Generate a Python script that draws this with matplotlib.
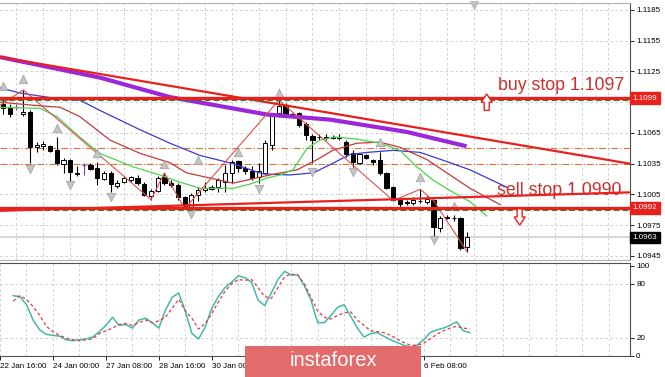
import numpy as np
import matplotlib.pyplot as plt
from matplotlib.patches import FancyBboxPatch, FancyArrow

plt.rcParams['font.family'] = ['Liberation Sans', 'DejaVu Sans']

# EURUSD H4 candles (bar index 0..69)
bar_open = [1.1093, 1.1089, 1.1090, 1.1083, 1.1085, 1.1051, 1.1052, 1.1052, 1.1048, 1.1035,
            1.1039, 1.1026, 1.1034, 1.1034, 1.1031, 1.1020, 1.1026, 1.1013, 1.1017, 1.1019,
            1.1021, 1.1015, 1.1003, 1.1008, 1.1022, 1.1016, 1.1014, 1.1002, 1.0993, 1.1004,
            1.1009, 1.1010, 1.1012, 1.1017, 1.1026, 1.1038, 1.1031, 1.1028, 1.1022, 1.1026,
            1.1053, 1.1084, 1.1092, 1.1083, 1.1084, 1.1074, 1.1062, 1.1061, 1.1061, 1.1060,
            1.1061, 1.1056, 1.1045, 1.1036, 1.1043, 1.1039, 1.1039, 1.1026, 1.1012, 1.1001,
            1.0998, 1.0997, 1.0999, 1.0998, 1.1000, 1.0972, 1.0982, 1.0982, 1.0982, 1.0954]
bar_high = [1.1099, 1.1093, 1.1093, 1.1107, 1.1087, 1.1056, 1.1057, 1.1053, 1.1061, 1.1041,
            1.1040, 1.1033, 1.1036, 1.1036, 1.1037, 1.1028, 1.1028, 1.1019, 1.1023, 1.1023,
            1.1024, 1.1017, 1.1010, 1.1023, 1.1026, 1.1019, 1.1016, 1.1003, 1.1006, 1.1012,
            1.1017, 1.1014, 1.1021, 1.1034, 1.1039, 1.1039, 1.1033, 1.1033, 1.1036, 1.1058,
            1.1084, 1.1097, 1.1094, 1.1084, 1.1085, 1.1076, 1.1064, 1.1064, 1.1064, 1.1063,
            1.1064, 1.1058, 1.1048, 1.1045, 1.1044, 1.1040, 1.1046, 1.1027, 1.1013, 1.1002,
            1.1000, 1.1002, 1.1010, 1.1003, 1.1001, 1.0984, 1.0985, 1.0985, 1.0983, 1.0968]
bar_low = [1.1083, 1.1081, 1.1087, 1.1082, 1.1036, 1.1046, 1.1048, 1.1046, 1.1034, 1.1026,
           1.1017, 1.1023, 1.1024, 1.1029, 1.1014, 1.1019, 1.1007, 1.1011, 1.1016, 1.1017,
           1.1014, 1.1003, 1.1000, 1.1007, 1.1014, 1.1012, 1.1000, 1.0991, 1.0992, 1.0999,
           1.1007, 1.1009, 1.1007, 1.1007, 1.1016, 1.1027, 1.1025, 1.1019, 1.1016, 1.1025,
           1.1048, 1.1081, 1.1081, 1.1081, 1.1071, 1.1058, 1.1036, 1.1058, 1.1058, 1.1059,
           1.1058, 1.1042, 1.1032, 1.1035, 1.1040, 1.1034, 1.1024, 1.1010, 1.0999, 1.0993,
           1.0995, 1.0995, 1.0997, 1.0996, 1.0963, 1.0968, 1.0981, 1.0979, 1.0951, 1.0949]
bar_close = [1.1089, 1.1083, 1.1090, 1.1085, 1.1051, 1.1053, 1.1054, 1.1047, 1.1036, 1.1039,
             1.1027, 1.1025, 1.1034, 1.1030, 1.1021, 1.1026, 1.1015, 1.1016, 1.1021, 1.1022,
             1.1016, 1.1004, 1.1008, 1.1021, 1.1016, 1.1014, 1.1002, 1.0992, 1.1004, 1.1009,
             1.1011, 1.1012, 1.1019, 1.1026, 1.1037, 1.1031, 1.1028, 1.1021, 1.1028, 1.1055,
             1.1083, 1.1091, 1.1083, 1.1082, 1.1073, 1.1063, 1.1058, 1.1061, 1.1060, 1.1061,
             1.1060, 1.1044, 1.1037, 1.1044, 1.1041, 1.1037, 1.1026, 1.1011, 1.1000, 1.0996,
             1.0997, 1.1000, 1.0999, 1.1001, 1.0973, 1.0982, 1.0983, 1.0982, 1.0953, 1.0963]
purple_doji = [2, 12]

# indicator lines as (bar index, price) points
ma200_x = [-0.45, 7.0, 14.4, 24.8, 39.2, 48.6, 60.0, 68.9]
ma200_y = [1.1139, 1.1129, 1.1119, 1.1100, 1.1083, 1.1078, 1.1066, 1.1052]

jaw_x = [-0.45, 2.5, 8.5, 11.4, 14.4, 20.4, 24.8, 29.3, 34.2, 38.6, 42.6, 46.1, 48.6, 51.6,
         54.1, 58.0, 62.0, 66.0, 69.4, 74.9]
jaw_y = [1.1109, 1.1104, 1.1098, 1.1097, 1.1087, 1.1068, 1.1055, 1.1043, 1.1035, 1.1025,
         1.1024, 1.1026, 1.1034, 1.1044, 1.1046, 1.1048, 1.1046, 1.1037, 1.1029, 1.1012]

teeth_x = [-0.45, 4.5, 8.5, 11.4, 15.9, 20.4, 24.8, 27.3, 34.2, 39.7, 43.7, 46.7, 49.0, 52.6,
           56.0, 59.0, 63.0, 66.9, 69.4, 73.9]
teeth_y = [1.1095, 1.1092, 1.1090, 1.1081, 1.1058, 1.1045, 1.1036, 1.1026, 1.1016, 1.1024,
           1.1029, 1.1039, 1.1048, 1.1055, 1.1056, 1.1051, 1.1039, 1.1022, 1.1011, 1.0995]

lips_x = [-0.45, 5.5, 8.0, 11.4, 14.4, 19.3, 23.3, 26.3, 29.3, 34.2, 36.7, 39.2, 41.2, 43.1,
          45.2, 47.1, 49.3, 52.6, 56.0, 59.0, 61.5, 63.9, 66.9, 69.4, 71.9]
lips_y = [1.1090, 1.1089, 1.1081, 1.1061, 1.1045, 1.1032, 1.1024, 1.1017, 1.1011, 1.1011,
          1.1015, 1.1021, 1.1024, 1.1029, 1.1050, 1.1058, 1.1061, 1.1059, 1.1055, 1.1048,
          1.1032, 1.1019, 1.1007, 1.0998, 1.0984]

zigzag_x = [-0.45, 3, 22, 24, 27, 41, 58, 62, 64, 69]
zigzag_y = [1.1092, 1.1107, 1.1000, 1.1026, 1.0991, 1.1097, 1.0999, 1.1010, 1.0999, 1.0949]

frac_up_x = [0, 3, 8, 14, 24, 29, 35, 41, 56, 62, 67]
frac_up_y = [1.1111, 1.1118, 1.1070, 1.1045, 1.1035, 1.1039, 1.1046, 1.1104, 1.1056, 1.1022, 1.0994]
frac_dn_x = [4, 10, 16, 28, 38, 46, 52, 64]
frac_dn_y = [1.1030, 1.1014, 1.1002, 1.0986, 1.1010, 1.1027, 1.1027, 1.0961]

trend_x = [-0.45, 93.2]
trend_y = [1.1139, 1.1035]
support_x = [-0.45, 93.2]
support_y = [1.0989, 1.1007]

buy_stop_line = 1.1099
buy_order = 1.1097
sell_stop_line = 1.0992
sell_order = 1.0990
mid_levels = [1.1050, 1.1035]
last_price = 1.0963

# stochastic
stoch_main = [67, 66, 57, 40, 29, 24, 23, 22, 18, 17,
              18, 19, 21, 27, 34, 43, 34, 35, 31, 40,
              42, 37, 31, 51, 65, 70, 50, 25, 19, 32,
              53, 66, 76, 82, 89, 87, 82, 62, 56, 70,
              85, 94, 90, 90, 78, 62, 37, 37, 45, 54,
              57, 44, 31, 21, 25, 26, 22, 18, 15, 12,
              10, 12, 18, 26, 29, 31, 34, 38, 28, 26]
stoch_signal = [61, 67, 63, 55, 45, 33, 27, 23, 20, 18,
                17, 18, 19, 25, 28, 31, 35, 36, 34, 37,
                40, 37, 39, 43, 53, 63, 50, 42, 30, 36,
                47, 60, 72, 80, 85, 84, 85, 76, 66, 64,
                76, 88, 91, 90, 80, 65, 50, 43, 41, 45,
                48, 49, 40, 34, 28, 27, 26, 23, 19, 15,
                12, 12, 14, 19, 24, 28, 31, 33, 31, 30]

price_ticks = [1.0945, 1.0975, 1.1005, 1.1035, 1.1065, 1.1095, 1.1125, 1.1155, 1.1185]
date_pos = [-2, 6, 14, 22, 30, 38, 46, 54, 62]
date_labels = ['22 Jan 16:00', '24 Jan 00:00', '27 Jan 08:00', '28 Jan 16:00', '30 Jan 00:00',
               '31 Jan 08:00', '3 Feb 16:00', '5 Feb 00:00', '6 Feb 08:00']

RED = '#e8211d'
grid_kw = dict(color='#c9c9c9', lw=0.6, ls=(0, (3, 3)), zorder=0)

fig = plt.figure(figsize=(6.65, 3.77), dpi=100)
ax = fig.add_axes([0, 1 - 260 / 377, 630 / 665, 257 / 377])
ax2 = fig.add_axes([0, 1 - 356 / 377, 630 / 665, 93 / 377])

xmin, xmax = -0.45, 93.2
grid_x = np.arange(-2, 94, 4)

# ---- main panel ----
for gx in grid_x:
    ax.axvline(gx, **grid_kw)
for py in price_ticks:
    ax.axhline(py, **grid_kw)

for lv in mid_levels:
    ax.axhline(lv, color='#e0703a', lw=0.8, ls=(0, (6, 2, 1, 2)), zorder=1)
ax.axhline(last_price, color='#cfcfcf', lw=1.2, zorder=1)

x = np.arange(len(bar_open))
o = np.array(bar_open)
c = np.array(bar_close)
edge = ['#8a2be2' if i in purple_doji else 'black' for i in x]
ax.vlines(x, bar_low, bar_high, colors=edge, lw=0.8, zorder=3)
body_col = ['black' if cc < oo else 'white' for oo, cc in zip(o, c)]
ax.bar(x, np.abs(c - o), bottom=np.minimum(o, c), width=0.62, color=body_col,
       edgecolor=edge, linewidth=0.7, zorder=4)

ax.plot(ma200_x, ma200_y, color='#9b27d8', lw=3.0, zorder=5, solid_capstyle='butt')
ax.plot(jaw_x, jaw_y, color='#3a3ad0', lw=0.9, zorder=5)
ax.plot(teeth_x, teeth_y, color='#c03a3a', lw=0.9, zorder=5)
ax.plot(lips_x, lips_y, color='#4cd44c', lw=0.9, zorder=5)
ax.plot(zigzag_x, zigzag_y, color='#e05050', lw=0.8, zorder=5)

ax.scatter(frac_up_x, frac_up_y, marker='^', s=38, color='#c4c4c4', edgecolors='#929292',
           linewidths=0.4, zorder=6)
ax.scatter(frac_dn_x, frac_dn_y, marker='v', s=38, color='#c4c4c4', edgecolors='#929292',
           linewidths=0.4, zorder=6)
ax.scatter([70], [1.1190], marker='v', s=30, color='#bdbdbd', zorder=6, clip_on=False)

ax.plot(trend_x, trend_y, color=RED, lw=1.6, zorder=6)
ax.axhline(buy_stop_line, color=RED, lw=2.4, zorder=6)
ax.axhline(buy_order, color='#2f7d2f', lw=0.8, ls=(0, (5, 3)), zorder=6)
ax.axhline(sell_stop_line, color=RED, lw=2.4, zorder=6)
ax.axhline(sell_order, color='#2f7d2f', lw=0.8, ls=(0, (5, 3)), zorder=6)

ax.text(73.6, 1.1111, 'buy stop 1.1097', color='#c8302c', fontsize=12.8, va='center',
        ha='left', zorder=5)
ax.text(73.4, 1.1009, 'sell stop 1.0990', color='#c8302c', fontsize=12.8, va='center',
        ha='left', zorder=5)
ax.plot(support_x, support_y, color=RED, lw=1.6, zorder=7)

# hollow order arrows
ax.add_patch(FancyArrow(71.9, 1.1087, 0, 0.0016, width=0.75, head_width=1.65,
                        head_length=0.0008, length_includes_head=True,
                        fc='white', ec=RED, lw=1.0, zorder=8))
ax.add_patch(FancyArrow(76.8, 1.0991, 0, -0.0016, width=0.75, head_width=1.65,
                        head_length=0.0008, length_includes_head=True,
                        fc='white', ec=RED, lw=1.0, zorder=8))

ax.set_xlim(xmin, xmax)
ax.set_ylim(1.0941, 1.11918)
ax.set_xticks([])
ax.yaxis.tick_right()
ax.set_yticks(price_ticks)
ax.set_yticklabels([f'{p:.4f}' for p in price_ticks])
ax.tick_params(axis='y', labelsize=5.8, length=3, width=0.6, pad=1.5, colors='black')

for val, fc in [(buy_stop_line, RED), (sell_stop_line, RED), (last_price, 'black')]:
    ax.text(1.004, val, f'{val:.4f}', transform=ax.get_yaxis_transform(), fontsize=5.8,
            color='white', va='center', ha='left', zorder=10, clip_on=False,
            bbox=dict(boxstyle='square,pad=0.3', fc=fc, ec=fc))

ax.spines['left'].set_visible(False)
ax.spines['top'].set_color('#b0b0b0')
ax.spines['bottom'].set_color('#b0b0b0')
ax.spines['right'].set_color('#505050')

# ---- stochastic panel ----
for gx in grid_x:
    ax2.axvline(gx, **grid_kw)
for lv in [20, 80]:
    ax2.axhline(lv, **grid_kw)
ax2.plot(x, stoch_main, color='#45b8ab', lw=1.1, zorder=3)
ax2.plot(x, stoch_signal, color='#e03c3c', lw=0.9, ls=(0, (2.5, 2)), zorder=3)
ax2.set_xlim(xmin, xmax)
ax2.set_ylim(0, 103.3)
ax2.yaxis.tick_right()
ax2.set_yticks([0, 20, 80, 100])
ax2.tick_params(axis='y', labelsize=5.8, length=3, width=0.6, pad=1.5)
ax2.set_xticks(date_pos)
ax2.set_xticklabels(date_labels)
ax2.tick_params(axis='x', labelsize=5.8, length=3, width=0.6, pad=2)
for lab in ax2.get_xticklabels():
    lab.set_ha('left')
ax2.spines['left'].set_visible(False)
for s in ['top', 'bottom', 'right']:
    ax2.spines[s].set_color('#505050')

# ---- watermark ----
fig.add_artist(FancyBboxPatch((245 / 665, 0), 176 / 665, 31 / 377,
                              boxstyle='square,pad=0', transform=fig.transFigure,
                              fc='#e36b6b', ec='none', zorder=20))
fig.text(333 / 665, 16 / 377, 'instaforex', color='white', fontsize=14.5,
         ha='center', va='center', zorder=21)

fig.savefig('out.png', dpi=100)
